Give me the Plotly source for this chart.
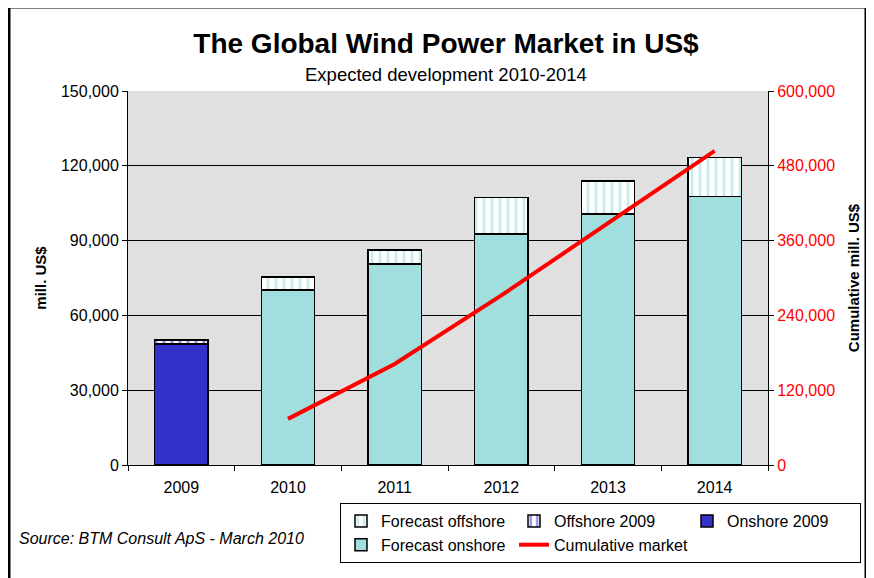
import plotly.graph_objects as go

# ---- data ----
categories = ['2009', '2010', '2011', '2012', '2013', '2014']
years_2009 = ['2009']
onshore_2009 = [48600]
offshore_2009 = [1500]
forecast_years = ['2010', '2011', '2012', '2013', '2014']
forecast_onshore = [70200, 80600, 92600, 100700, 107600]
forecast_offshore = [5200, 5600, 14700, 13300, 15800]
cumulative_market = [74000, 162000, 272000, 388000, 504000]
left_ticks = [0, 30000, 60000, 90000, 120000, 150000]
right_ticks = [0, 120000, 240000, 360000, 480000, 600000]

FONT = 'Liberation Sans, Arial, sans-serif'
OFF = 8  # page body margin
W, H = 874 - OFF, 578 - OFF
PL, PR, PT, PB = 128, 768, 91, 465   # plot area in window pixels
L, T = PL - OFF, PT - OFF
R, B = W - (PR - OFF), H - (PB - OFF)
PW, PH = PR - PL, PB - PT

def px_x(x):
    return (x - PL) / PW

def px_y(y):
    return (PB - y) / PH

fig = go.Figure()

fig.add_trace(go.Bar(
    name='Onshore 2009', x=years_2009, y=onshore_2009,
    marker=dict(color='#3333CC', line=dict(color='black', width=1.5)),
    legendrank=3))
fig.add_trace(go.Bar(
    name='Forecast onshore', x=forecast_years, y=forecast_onshore,
    marker=dict(color='#A1DEDE', line=dict(color='black', width=1.5)),
    legendrank=4))
fig.add_trace(go.Bar(
    name='Offshore 2009', x=years_2009, y=offshore_2009,
    marker=dict(color='white', line=dict(color='black', width=1.5),
                pattern=dict(shape='|', fgcolor='#1111CC', bgcolor='white',
                             size=8, solidity=0.35)),
    legendrank=2))
fig.add_trace(go.Bar(
    name='Forecast offshore', x=forecast_years, y=forecast_offshore,
    marker=dict(color='white', line=dict(color='black', width=1.5),
                pattern=dict(shape='|', fgcolor='#8FD8D8', bgcolor='white',
                             size=8, solidity=0.35)),
    legendrank=1))
fig.add_trace(go.Scatter(
    name='Cumulative market', x=forecast_years, y=cumulative_market,
    yaxis='y2', mode='lines', line=dict(color='#FF0000', width=4),
    legendrank=5))

fig.update_layout(
    width=W, height=H,
    margin=dict(l=L, r=R, t=T, b=B, autoexpand=False),
    paper_bgcolor='white', plot_bgcolor='#E0E0E0',
    font=dict(family=FONT, size=16, color='black'),
    barmode='stack', bargap=0.5,
    showlegend=True,
    title=dict(text='<b>The Global Wind Power Market in US$</b>',
               x=px_x(446), xref='paper', xanchor='center',
               y=1 - (43 - OFF) / H, yref='container', yanchor='middle',
               font=dict(family=FONT, size=28, color='black')),
    xaxis=dict(type='category', categoryorder='array', categoryarray=categories,
               showline=True, linecolor='black', linewidth=1,
               ticks='outside', tickson='boundaries', ticklen=5, tickcolor='black',
               ticklabelstandoff=8,
               showgrid=False, tickfont=dict(size=16), fixedrange=True),
    yaxis=dict(range=[0, 150000], tickvals=left_ticks, tickformat=',',
               showline=True, linecolor='black', linewidth=1,
               ticks='outside', ticklen=5, tickcolor='black',
               showgrid=True, gridcolor='black', gridwidth=1, zeroline=False,
               tickfont=dict(size=16, color='black'),
               title=dict(text='<b>mill. US$</b>', font=dict(size=15), standoff=10)),
    yaxis2=dict(range=[0, 600000], tickvals=right_ticks, tickformat=',',
                overlaying='y', side='right',
                showline=True, linecolor='black', linewidth=1,
                ticks='outside', ticklen=5, tickcolor='black',
                showgrid=False, zeroline=False,
                tickfont=dict(size=16, color='#FF0000'),
                title=dict(text='<b>Cumulative mill. US$</b>', font=dict(size=15), standoff=14)),
    legend=dict(orientation='h', x=px_x(340), xanchor='left', y=px_y(503), yanchor='top',
                bgcolor='white', bordercolor='black', borderwidth=1,
                font=dict(size=16), entrywidth=128, traceorder='normal'),
    annotations=[
        dict(text='Expected development 2010-2014', xref='paper', yref='paper',
             x=px_x(446), y=px_y(74),
             xanchor='center', yanchor='middle', showarrow=False,
             font=dict(size=18.5)),
        dict(text='<i>Source: BTM Consult ApS - March 2010</i>', xref='paper', yref='paper',
             x=px_x(17), y=px_y(538), xanchor='left', yanchor='middle', showarrow=False,
             font=dict(size=16)),
    ],
    shapes=[
        dict(type='rect', xref='paper', yref='paper',
             x0=px_x(9), x1=px_x(866), y0=px_y(595), y1=px_y(7),
             line=dict(color='black', width=3), fillcolor='rgba(0,0,0,0)', layer='above'),
    ],
)

fig.write_html('out.html')
